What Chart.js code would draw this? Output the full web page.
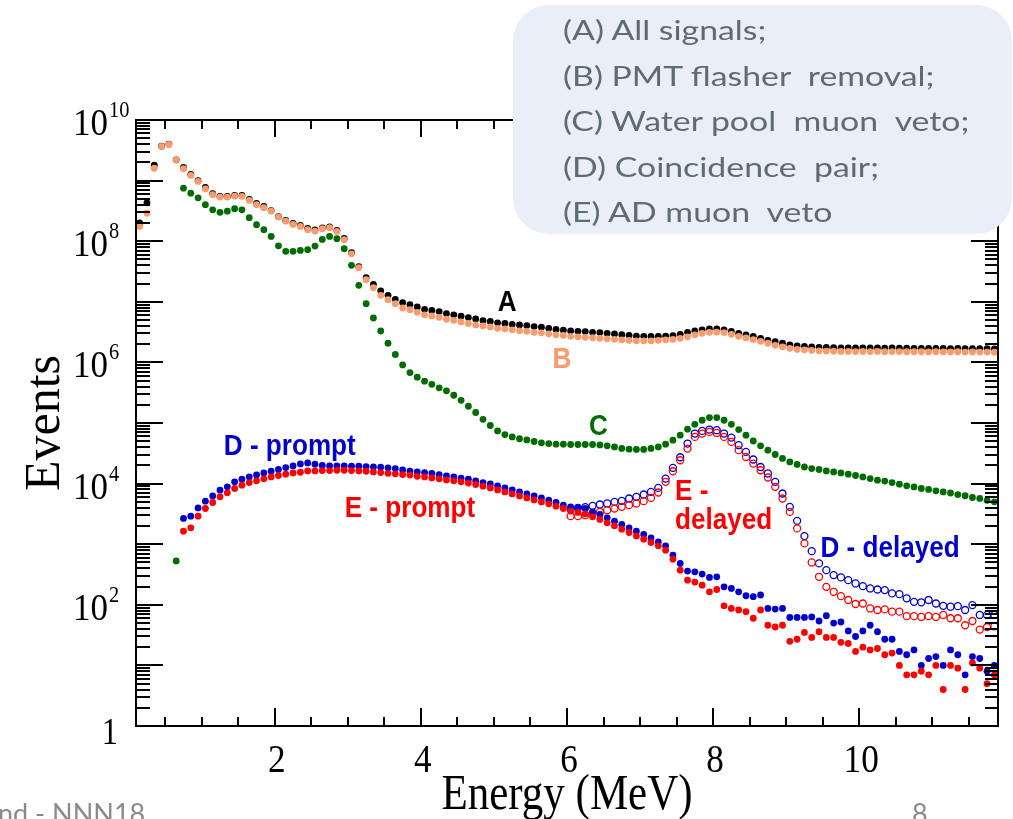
<!DOCTYPE html>
<html>
<head>
<meta charset="utf-8">
<script src="https://cdn.jsdelivr.net/npm/chart.js@4.4.1/dist/chart.umd.min.js"></script>
<style>
  html, body { margin: 0; padding: 0; background: #fff; }
  #wrap { position: relative; width: 1013px; height: 819px; overflow: hidden; }
  #c { position: absolute; left: 0; top: 0; }
  #cuts {
    position: absolute; left: 513px; top: 5px; width: 499px; height: 229px;
    background: #e9eef9; border-radius: 36px;
  }
  #cuts div {
    position: absolute; left: 50px; height: 46px; line-height: 46px;
    font-family: Lato, "Open Sans", sans-serif; font-size: 26px; color: #5f6b72;
    white-space: pre; transform: scaleX(1.3); transform-origin: 0 50%;
  }
  .foot { position: absolute; font-family: Lato, "Open Sans", sans-serif; font-size: 27px; color: #8a8a8a; white-space: pre; }
</style>
</head>
<body>
<div id="wrap">
  <canvas id="c" width="1013" height="819"></canvas>
  <div id="cuts">
    <div style="top:2px">(A) All signals;</div>
    <div style="top:47.5px">(B) PMT flasher  removal;</div>
    <div style="top:93px">(C) Water pool  muon  veto;</div>
    <div style="top:138.5px">(D) Coincidence  pair;</div>
    <div style="top:184px">(E) AD muon  veto</div>
  </div>
  <div class="foot" style="left:-2px; top:796px;">nd - NNN18</div>
  <div class="foot" style="left:912px; top:796px;">8</div>
</div>
<script>
// Energy bin centres (MeV)
const energy = [
  0.15,0.25,0.35,0.45,0.55,0.65,0.75,0.85,0.95,1.05,
  1.15,1.25,1.35,1.45,1.55,1.65,1.75,1.85,1.95,2.05,
  2.15,2.25,2.35,2.45,2.55,2.65,2.75,2.85,2.95,3.05,
  3.15,3.25,3.35,3.45,3.55,3.65,3.75,3.85,3.95,4.05,
  4.15,4.25,4.35,4.45,4.55,4.65,4.75,4.85,4.95,5.05,
  5.15,5.25,5.35,5.45,5.55,5.65,5.75,5.85,5.95,6.05,
  6.15,6.25,6.35,6.45,6.55,6.65,6.75,6.85,6.95,7.05,
  7.15,7.25,7.35,7.45,7.55,7.65,7.75,7.85,7.95,8.05,
  8.15,8.25,8.35,8.45,8.55,8.65,8.75,8.85,8.95,9.05,
  9.15,9.25,9.35,9.45,9.55,9.65,9.75,9.85,9.95,10.05,
  10.15,10.25,10.35,10.45,10.55,10.65,10.75,10.85,10.95,11.05,
  11.15,11.25,11.35,11.45,11.55,11.65,11.75,11.85
];

// (A) all signals
const allSignals = [
  2.0e8,4.3e8,1.8e9,3.7e9,4.0e9,2.2e9,1.65e9,1.26e9,1.0e9,7.7e8,
  6.1e8,5.5e8,5.5e8,5.7e8,5.7e8,4.9e8,4.2e8,3.75e8,3.2e8,2.55e8,
  2.2e8,1.97e8,1.82e8,1.63e8,1.54e8,1.66e8,1.72e8,1.51e8,1.11e8,6.5e7,
  3.8e7,2.5e7,1.94e7,1.52e7,1.28e7,1.1e7,9.7e6,9.0e6,8.2e6,7.5e6,
  7.2e6,6.9e6,6.4e6,6.1e6,5.8e6,5.5e6,5.2e6,4.9e6,4.75e6,4.5e6,
  4.4e6,4.25e6,4.15e6,4.05e6,3.9e6,3.8e6,3.65e6,3.5e6,3.4e6,3.3e6,
  3.26e6,3.22e6,3.14e6,3.1e6,3.02e6,2.94e6,2.87e6,2.8e6,2.72e6,2.69e6,
  2.69e6,2.69e6,2.72e6,2.77e6,2.91e6,3.14e6,3.3e6,3.45e6,3.58e6,3.58e6,
  3.45e6,3.26e6,3.02e6,2.85e6,2.69e6,2.5e6,2.31e6,2.19e6,2.07e6,1.95e6,
  1.88e6,1.84e6,1.81e6,1.77e6,1.77e6,1.75e6,1.74e6,1.74e6,1.73e6,1.74e6,
  1.73e6,1.74e6,1.72e6,1.73e6,1.72e6,1.72e6,1.71e6,1.71e6,1.70e6,1.71e6,
  1.70e6,1.69e6,1.70e6,1.69e6,1.68e6,1.69e6,1.68e6,1.67e6
];

// (B) after PMT flasher removal
const flasherCut = [
  1.75e8,2.9e8,1.6e9,3.66e9,3.95e9,2.2e9,1.57e9,1.22e9,9.7e8,7.3e8,
  5.85e8,5.35e8,5.35e8,5.55e8,5.5e8,4.7e8,4.0e8,3.57e8,3.13e8,2.5e8,
  2.15e8,1.89e8,1.75e8,1.55e8,1.47e8,1.61e8,1.67e8,1.45e8,1.06e8,6.2e7,
  3.66e7,2.32e7,1.71e7,1.28e7,1.08e7,9.3e6,7.9e6,7.4e6,6.7e6,6.1e6,
  5.85e6,5.55e6,5.15e6,4.95e6,4.65e6,4.4e6,4.15e6,4.0e6,3.85e6,3.65e6,
  3.58e6,3.45e6,3.32e6,3.26e6,3.14e6,3.08e6,2.96e6,2.85e6,2.8e6,2.69e6,
  2.64e6,2.59e6,2.55e6,2.5e6,2.45e6,2.4e6,2.36e6,2.31e6,2.27e6,2.27e6,
  2.27e6,2.31e6,2.36e6,2.4e6,2.5e6,2.64e6,2.85e6,3.02e6,3.14e6,3.17e6,
  3.1e6,2.91e6,2.69e6,2.53e6,2.38e6,2.23e6,2.07e6,1.91e6,1.81e6,1.71e6,
  1.64e6,1.61e6,1.58e6,1.55e6,1.54e6,1.53e6,1.52e6,1.52e6,1.51e6,1.52e6,
  1.51e6,1.52e6,1.5e6,1.51e6,1.51e6,1.5e6,1.5e6,1.5e6,1.49e6,1.5e6,
  1.49e6,1.49e6,1.5e6,1.48e6,1.49e6,1.48e6,1.48e6,1.47e6
];

// (C) after water pool muon veto
const waterPoolVeto = [
  null,null,null,null,null,530,7.5e8,6.2e8,5.2e8,4.0e8,
  3.3e8,3.0e8,3.13e8,3.43e8,3.3e8,2.44e8,1.87e8,1.55e8,1.2e8,8.4e7,
  6.8e7,6.8e7,7.05e7,7.25e7,8.3e7,1.07e8,1.2e8,1.1e8,7.5e7,4.0e7,
  1.87e7,9.3e6,5.4e6,3.3e6,2.07e6,1.35e6,9.1e5,6.8e5,5.7e5,4.9e5,
  4.35e5,3.8e5,3.4e5,2.87e5,2.37e5,1.89e5,1.49e5,1.15e5,9.1e4,7.4e4,
  6.45e4,5.9e4,5.5e4,5.25e4,4.95e4,4.7e4,4.58e4,4.47e4,4.47e4,4.42e4,
  4.42e4,4.42e4,4.42e4,4.35e4,4.2e4,4.03e4,3.8e4,3.7e4,3.66e4,3.66e4,
  3.8e4,4.03e4,4.47e4,5.2e4,6.3e4,7.9e4,9.5e4,1.11e5,1.23e5,1.23e5,
  1.11e5,9.5e4,7.8e4,6.3e4,5.05e4,4.2e4,3.56e4,3.02e4,2.6e4,2.28e4,
  2.07e4,1.88e4,1.77e4,1.71e4,1.62e4,1.56e4,1.5e4,1.43e4,1.36e4,1.29e4,
  1.21e4,1.14e4,1.1e4,1.04e4,9.8e3,9.2e3,8.8e3,8.3e3,8.0e3,7.6e3,
  7.3e3,7.0e3,6.6e3,6.3e3,5.9e3,5.7e3,5.3e3,5.0e3
];

// (D) coincidence pairs, prompt
const dPrompt = [
  null,null,null,null,null,null,2660,2900,3970,5130,
  6270,7780,8830,1.07e4,1.18e4,1.29e4,1.39e4,1.5e4,1.6e4,1.71e4,
  1.84e4,1.96e4,2.11e4,2.19e4,2.09e4,1.99e4,1.96e4,1.96e4,1.96e4,1.94e4,
  1.94e4,1.91e4,1.88e4,1.86e4,1.82e4,1.77e4,1.68e4,1.61e4,1.56e4,1.52e4,
  1.47e4,1.41e4,1.34e4,1.29e4,1.23e4,1.18e4,1.11e4,1.04e4,9890,9170,
  8490,7870,7300,6760,6270,5810,5320,4880,4410,4130,
  4040,3880,3410,3100,2720,2400,2120,1860,1640,1450,
  1270,1090,940,660,482,360,350,321,283,290,
  198,186,164,141,136,145,87,85,87,62,
  62,62,63,54,66,50,52,37,30,37,
  46,36,27,27,17,15,18,10,13,14,
  10,18,15,7,14,13,8,10
];

// (D) coincidence pairs, delayed
const dDelayed = [
  null,null,null,null,null,null,null,null,null,null,
  null,null,null,null,null,null,null,null,null,null,
  null,null,null,null,null,null,null,null,null,null,
  null,null,null,null,null,null,null,null,null,null,
  null,null,null,null,null,null,null,null,null,null,
  null,null,null,null,null,null,null,null,null,3780,
  3970,4080,4290,4520,4700,4990,5190,5680,6040,6610,
  7300,8490,1.21e4,1.82e4,2.72e4,4.58e4,6.7e4,7.4e4,7.8e4,7.6e4,
  6.7e4,5.75e4,4.3e4,3.33e4,2.5e4,1.88e4,1.47e4,1.07e4,6870,4130,
  2430,1360,768,482,373,309,283,255,225,203,
  186,179,175,154,150,128,112,110,120,105,
  96,93,95,82,99,68,68,68
];

// (E) after AD muon veto, prompt
const ePrompt = [
  null,null,null,null,null,null,1640,1860,2900,3880,
  4880,6040,7030,8300,9420,1.04e4,1.11e4,1.2e4,1.29e4,1.36e4,
  1.43e4,1.5e4,1.54e4,1.62e4,1.62e4,1.64e4,1.64e4,1.66e4,1.66e4,1.64e4,
  1.62e4,1.6e4,1.56e4,1.52e4,1.48e4,1.45e4,1.41e4,1.38e4,1.32e4,1.29e4,
  1.24e4,1.2e4,1.15e4,1.11e4,1.07e4,1.02e4,9660,9060,8490,7870,
  7300,6760,6270,5810,5380,4990,4630,4240,3880,3510,
  3340,3160,2830,2560,2250,2010,1770,1560,1370,1210,
  1070,940,798,567,373,255,237,211,164,179,
  96,87,82,77,60,82,46,43,46,25,
  27,35,29,36,29,29,24,23,17,20,
  18,19,15,16,10,7,7,8,7,10,
  4,10,9,4,11,9,5,7
];

// (E) after AD muon veto, delayed
const eDelayed = [
  null,null,null,null,null,null,null,null,null,null,
  null,null,null,null,null,null,null,null,null,null,
  null,null,null,null,null,null,null,null,null,null,
  null,null,null,null,null,null,null,null,null,null,
  null,null,null,null,null,null,null,null,null,null,
  null,null,null,null,null,null,null,null,null,2900,
  2900,3010,3210,3410,3640,3880,4130,4410,4700,5130,
  5810,7130,1.07e4,1.6e4,2.43e4,3.79e4,5.89e4,6.7e4,7.12e4,6.85e4,
  5.89e4,4.87e4,3.56e4,2.75e4,2.14e4,1.66e4,1.26e4,8830,5680,3410,
  1820,1030,500,290,198,164,139,120,103,105,
  87,82,84,77,77,65,65,63,65,63,
  68,60,60,46,54,39,43,44
];

// Axis ticks and labels
const xTickValues = [2, 4, 6, 8, 10];
const yTickExponents = [0, 2, 4, 6, 8, 10];

// In-plot series labels (anchored at energy / count, text baseline)
const seriesLabels = [
  { text: 'A', e: 5.18, v: 7.0e6, color: '#000000' },
  { text: 'B', e: 5.93, v: 8.0e5, color: '#f99b6c' },
  { text: 'C', e: 6.43, v: 6.3e4, color: '#006b00' },
  { text: 'D - prompt', e: 2.205, v: 2.95e4, color: '#0000cc' },
  { text: 'E - prompt', e: 3.85, v: 2.8e3, color: '#ff0000' },
  { text: 'E -', e: 7.48, v: 5.3e3, color: '#ff0000', align: 'left' },
  { text: 'delayed', e: 7.48, v: 1.8e3, color: '#ff0000', align: 'left' },
  { text: 'D - delayed', e: 9.47, v: 610, color: '#0000cc', align: 'left' }
];

function pts(vals) {
  const out = [];
  vals.forEach((v, i) => { if (v !== null) out.push({ x: energy[i], y: v }); });
  return out;
}

function filled(label, vals, color, order) {
  return { label, data: pts(vals), order, pointRadius: 3.4, pointBorderWidth: 0,
           pointBackgroundColor: color, pointBorderColor: color, showLine: false };
}
function hollow(label, vals, color, order) {
  return { label, data: pts(vals), order, pointRadius: 3.5, pointBorderWidth: 1.3,
           pointBackgroundColor: 'rgba(0,0,0,0)', pointBorderColor: color, showLine: false };
}

function squeezeText(ctx, str, x, y, font, sx, align) {
  ctx.save();
  ctx.font = font;
  ctx.translate(x, y);
  ctx.scale(sx, 1);
  ctx.textAlign = align || 'left';
  ctx.textBaseline = 'alphabetic';
  ctx.fillText(str, 0, 0);
  ctx.restore();
}

const frame = {
  id: 'frame',
  afterDatasetsDraw(chart) {
    const { ctx, chartArea: a, scales: { x, y } } = chart;
    ctx.save();
    ctx.strokeStyle = '#000';
    ctx.fillStyle = '#000';
    ctx.lineWidth = 2;
    ctx.lineCap = 'butt';
    const seg = (x1, y1, x2, y2) => { ctx.beginPath(); ctx.moveTo(x1, y1); ctx.lineTo(x2, y2); ctx.stroke(); };

    // log ticks on left and right edges
    for (let d = 0; d <= 10; d++) {
      for (let m = 1; m <= 9; m++) {
        const v = m * Math.pow(10, d);
        if (v > 1e10) break;
        const py = Math.round(y.getPixelForValue(v));
        seg(a.left, py, a.left + (m === 1 ? 27 : 14), py);
        seg(a.right, py, a.right - (m === 1 ? 27 : 13), py);
      }
    }
    // energy ticks on bottom and top edges
    for (let e = 0.5; e < 11.9; e += 0.5) {
      const px = Math.round(x.getPixelForValue(e));
      const major = Math.abs(e % 2) < 1e-6;
      seg(px, a.bottom, px, a.bottom - (major ? 18 : 9));
      seg(px, a.top, px, a.top + (major ? 17 : 9));
    }
    ctx.strokeRect(a.left, a.top, a.right - a.left, a.bottom - a.top);

    // tick labels
    ctx.fillStyle = '#000';
    xTickValues.forEach(v => {
      squeezeText(ctx, String(v), x.getPixelForValue(v) + 2, 772, '40px "Liberation Serif"', 0.88, 'center');
    });
    yTickExponents.forEach(p => {
      const py = y.getPixelForValue(Math.pow(10, p));
      if (p === 0) {
        squeezeText(ctx, '1', 118, py + 18, '38px "Liberation Serif"', 0.85, 'right');
      } else {
        squeezeText(ctx, '10', 108, py + 15, '38px "Liberation Serif"', 0.92, 'right');
        squeezeText(ctx, String(p), 109, py - 3, '24px "Liberation Serif"', 0.85, 'left');
      }
    });

    // axis titles
    squeezeText(ctx, 'Energy (MeV)', (a.left + a.right) / 2, 809, '50px "Liberation Serif"', 0.86, 'center');
    ctx.save();
    ctx.translate(59, (a.top + a.bottom) / 2);
    ctx.rotate(-Math.PI / 2);
    ctx.font = '50px "Liberation Serif"';
    ctx.textAlign = 'center';
    ctx.fillText('Events', 0, 0);
    ctx.restore();

    // series labels
    seriesLabels.forEach(s => {
      ctx.fillStyle = s.color;
      squeezeText(ctx, s.text, x.getPixelForValue(s.e), y.getPixelForValue(s.v),
                  'bold 29px "Liberation Sans"', 0.9, s.align || 'center');
    });
    ctx.restore();
  }
};

new Chart(document.getElementById('c'), {
  type: 'scatter',
  data: {
    datasets: [
      filled('B', flasherCut, '#f99b6c', 1),
      filled('A', allSignals, '#000000', 2),
      filled('C', waterPoolVeto, '#006b00', 3),
      filled('E - prompt', ePrompt, '#ff0000', 4),
      filled('D - prompt', dPrompt, '#0000cc', 5),
      hollow('E - delayed', eDelayed, '#ff0000', 6),
      hollow('D - delayed', dDelayed, '#0000cc', 7)
    ]
  },
  options: {
    responsive: false,
    animation: false,
    layout: { padding: { left: 136, right: 15, top: 120, bottom: 93 } },
    scales: {
      x: { type: 'linear', min: 0.1, max: 11.9, display: false },
      y: { type: 'logarithmic', min: 1, max: 1e10, display: false }
    },
    plugins: { legend: { display: false }, tooltip: { enabled: false } }
  },
  plugins: [frame]
});
</script>
</body>
</html>
